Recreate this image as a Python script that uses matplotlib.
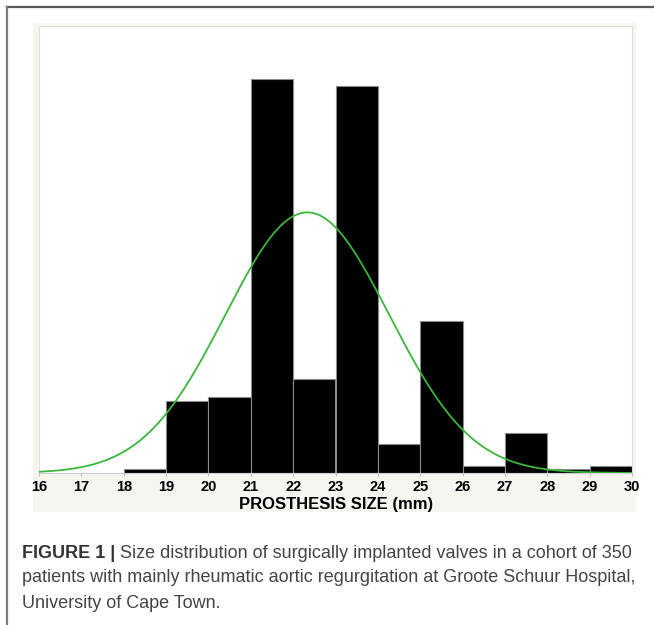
import numpy as np
import matplotlib
matplotlib.use("Agg")
import matplotlib.pyplot as plt
from matplotlib.patches import Rectangle
from matplotlib.lines import Line2D
from matplotlib.transforms import offset_copy

# valve sizes (mm) and number of patients per size
sizes = [18, 19, 20, 21, 22, 23, 24, 25, 26, 27, 28, 29]
counts = [1, 20, 21, 109, 26, 107, 8, 42, 2, 11, 1, 2]
tick_values = list(range(16, 31))
x_label = "PROSTHESIS SIZE (mm)"
caption_bold = "FIGURE 1 |"
caption_lines = [
    " Size distribution of surgically implanted valves in a cohort of 350",
    "patients with mainly rheumatic aortic regurgitation at Groote Schuur Hospital,",
    "University of Cape Town.",
]

W, H = 654, 625
fig = plt.figure(figsize=(W / 100, H / 100), dpi=100)

def fx(px):
    return px / W

def fy(py):
    return 1 - py / H

# outer frame lines (top and left)
fig.add_artist(Line2D([fx(7), 1], [fy(6.5), fy(6.5)], color="#5a5a5a", lw=1.6))
fig.add_artist(Line2D([fx(7), fx(7)], [fy(6.5), 0], color="#7a7a7a", lw=1.6))

# light panel behind the plot
fig.add_artist(Rectangle((fx(33), fy(512)), fx(603), 489 / H,
                         facecolor="#f6f5f0", edgecolor="none", zorder=0))

ax = fig.add_axes([fx(39), fy(473), fx(593), 447 / H])
ax.set_facecolor("white")

ax.bar(sizes, counts, width=1.0, align="edge", color="black",
       edgecolor="#8a8a8a", linewidth=0.8, zorder=2)

# normal fit from the data
vals = np.repeat(sizes, counts).astype(float)
mu = vals.mean()
sd = vals.std(ddof=1)
xs = np.linspace(16, 30, 400)
pdf = len(vals) / (sd * np.sqrt(2 * np.pi)) * np.exp(-0.5 * ((xs - mu) / sd) ** 2)
ax.plot(xs, pdf, color="#3cb53c", lw=1.3, zorder=3)

ax.set_xlim(16, 30)
ax.set_ylim(0, 123.7)
ax.set_yticks([])
ax.set_xticks(tick_values)
ax.set_xticklabels([str(t) for t in tick_values], fontsize=10.5,
                   fontweight="bold", family=["Liberation Sans", "DejaVu Sans"])
ax.tick_params(axis="x", length=2, color="#bbbbbb", pad=3)
for side in ["top", "right", "left"]:
    ax.spines[side].set_color("#e2e2dc")
    ax.spines[side].set_linewidth(0.8)
ax.spines["bottom"].set_color("#cfcfcf")
ax.spines["bottom"].set_linewidth(0.8)

# axis title, placed under the tick labels
fig.text(fx(336), fy(504), x_label, fontsize=12, fontweight="bold",
         family=["Liberation Sans", "DejaVu Sans"], ha="center", va="center")

# caption
cap_font = ["Liberation Sans", "DejaVu Sans"]
renderer = fig.canvas.get_renderer()
t0 = fig.text(fx(22), fy(553), caption_bold, fontsize=13, fontweight="bold",
              color="#333333", family=cap_font, va="center", ha="left")
ext = t0.get_window_extent(renderer)
fig.text(0, 0, caption_lines[0], fontsize=13, color="#444444", family=cap_font,
         va="center", ha="left",
         transform=offset_copy(fig.transFigure, fig=fig, x=ext.x1, y=fy(553) * H,
                               units="dots"))
for i, line in enumerate(caption_lines[1:]):
    fig.text(fx(22), fy(578 + 25 * i), line, fontsize=13, color="#444444",
             family=cap_font, va="center", ha="left")

fig.savefig("out.png", dpi=100)
